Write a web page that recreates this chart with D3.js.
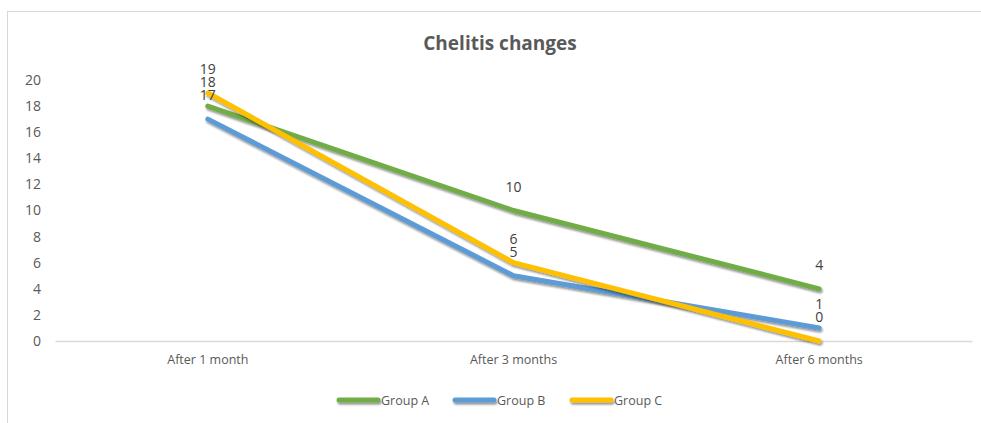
<!DOCTYPE html>
<html><head><meta charset="utf-8">
<script src="https://cdn.jsdelivr.net/npm/d3@7"></script>
<style>
body{margin:0;background:#fff;}
svg{display:block;font-family:"Open Sans","Noto Sans",sans-serif;}
</style></head>
<body>
<svg id="chart" width="981" height="423"></svg>
<script>
const categories = ["After 1 month", "After 3 months", "After 6 months"];
const seriesNames = ["Group A", "Group B", "Group C"];
const groupA = [18, 10, 4];
const groupB = [17, 5, 1];
const groupC = [19, 6, 0];
const yTicks = [0, 2, 4, 6, 8, 10, 12, 14, 16, 18, 20];
const colors = ["#70AD47", "#5B9BD5", "#FFC000"];
const title = "Chelitis changes";

const series = [groupA, groupB, groupC].map((v, i) => ({name: seriesNames[i], values: v, color: colors[i]}));

const svg = d3.select("#chart");
const defs = svg.append("defs");
const f = defs.append("filter").attr("id","sh").attr("filterUnits","userSpaceOnUse")
  .attr("x",0).attr("y",0).attr("width",981).attr("height",423);
f.append("feGaussianBlur").attr("in","SourceAlpha").attr("stdDeviation",1.2);
f.append("feOffset").attr("dx",1).attr("dy",1.5).attr("result","ob");
f.append("feComponentTransfer").append("feFuncA").attr("type","linear").attr("slope",0.45);
const m = f.append("feMerge"); m.append("feMergeNode"); m.append("feMergeNode").attr("in","SourceGraphic");

// chart frame
svg.append("line").attr("x1",7).attr("x2",981).attr("y1",11.5).attr("y2",11.5).attr("stroke","#d9d9d9").attr("stroke-width",1);
svg.append("line").attr("x1",7.5).attr("x2",7.5).attr("y1",11).attr("y2",423).attr("stroke","#d9d9d9").attr("stroke-width",1);

const x = d3.scaleBand().domain(categories).range([55, 972]);
const y = d3.scaleLinear().domain([0, 20]).range([341, 80]);

svg.append("text").attr("x",500).attr("y",50).attr("text-anchor","middle")
  .attr("font-size",19).attr("font-weight","bold").attr("fill","#595959").text(title);

// y axis labels
const ya = svg.append("g").attr("transform","translate(55,0)")
  .call(d3.axisLeft(y).tickValues(yTicks).tickSize(0).tickPadding(14));
ya.select(".domain").remove();
ya.selectAll("text").attr("font-size",14).attr("fill","#595959").attr("font-family","Open Sans, sans-serif");

// x axis
const xa = svg.append("g").attr("transform","translate(0,341)")
  .call(d3.axisBottom(x).tickSize(0).tickPadding(14));
xa.select(".domain").attr("stroke","#d9d9d9").attr("stroke-width",1.5);
xa.selectAll("text").attr("font-size",12.5).attr("fill","#595959").attr("font-family","Open Sans, sans-serif");

const cx = c => x(c) + x.bandwidth()/2;
const line = d3.line().x((d,i)=>cx(categories[i])).y(d=>y(d));

svg.append("g").selectAll("path").data(series).join("path")
  .attr("d", d=>line(d.values)).attr("fill","none").attr("stroke",d=>d.color)
  .attr("stroke-width",5).attr("stroke-linecap","round").attr("stroke-linejoin","round")
  .attr("filter","url(#sh)");

// data labels
const lab = svg.append("g");
series.forEach(s => {
  s.values.forEach((v,i)=>{
    lab.append("text").attr("x",cx(categories[i])).attr("y",y(v)-19)
      .attr("text-anchor","middle").attr("font-size",14).attr("fill","#404040").text(v);
  });
});

// legend
const leg = svg.append("g");
const legX = [339, 455, 572];
series.forEach((s,i)=>{
  leg.append("line").attr("x1",legX[i]).attr("x2",legX[i]+39).attr("y1",400).attr("y2",400)
    .attr("stroke",s.color).attr("stroke-width",5).attr("stroke-linecap","round").attr("filter","url(#sh)");
  leg.append("text").attr("x",legX[i]+42).attr("y",404.5).attr("font-size",12.5).attr("fill","#595959").text(s.name);
});
</script>
</body></html>
